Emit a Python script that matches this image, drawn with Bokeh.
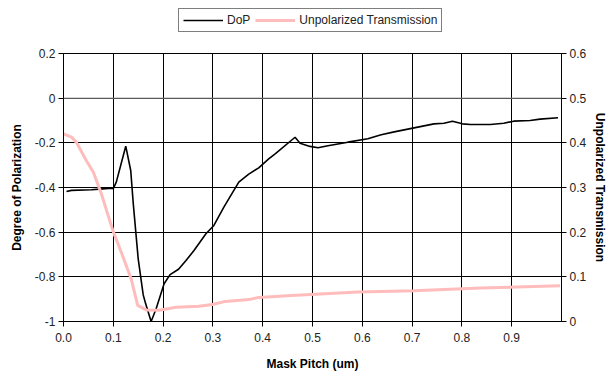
from bokeh.plotting import figure
from bokeh.models import Range1d, LinearAxis, FixedTicker, Legend, LegendItem, Span
from bokeh.layouts import column
from bokeh.embed import file_html
from bokeh.resources import INLINE

# DoP (left axis)
dop_x = [0.006, 0.016, 0.056, 0.079, 0.096, 0.100, 0.106, 0.125, 0.135, 0.140, 0.146, 0.150,
         0.160, 0.165, 0.176, 0.186, 0.202, 0.214, 0.231, 0.246, 0.262, 0.286, 0.302, 0.322,
         0.352, 0.372, 0.392, 0.412, 0.425, 0.465, 0.475, 0.495, 0.511, 0.531, 0.571, 0.611,
         0.638, 0.664, 0.704, 0.744, 0.764, 0.781, 0.801, 0.817, 0.857, 0.884, 0.904, 0.937,
         0.957, 0.993]
dop_y = [-0.418, -0.413, -0.410, -0.406, -0.403, -0.405, -0.376, -0.215, -0.324, -0.47, -0.62, -0.72,
         -0.88, -0.921, -1.0, -0.943, -0.831, -0.79, -0.766, -0.727, -0.682, -0.607, -0.57, -0.488,
         -0.376, -0.340, -0.312, -0.272, -0.249, -0.175, -0.202, -0.216, -0.222, -0.213, -0.197, -0.182,
         -0.164, -0.151, -0.133, -0.115, -0.112, -0.103, -0.115, -0.118, -0.118, -0.112, -0.103, -0.100,
         -0.094, -0.088]

# Unpolarized Transmission (right axis)
tr_x = [0.000, 0.016, 0.026, 0.046, 0.060, 0.076, 0.099, 0.116, 0.136, 0.149, 0.166, 0.192,
        0.226, 0.272, 0.299, 0.325, 0.372, 0.392, 0.458, 0.525, 0.591, 0.704, 0.837, 0.997]
tr_y = [0.420, 0.413, 0.401, 0.360, 0.334, 0.286, 0.204, 0.155, 0.095, 0.036, 0.026, 0.025,
        0.032, 0.034, 0.038, 0.045, 0.049, 0.054, 0.058, 0.062, 0.066, 0.069, 0.075, 0.080]

series_names = ["DoP", "Unpolarized Transmission"]

x_ticks = [0.0, 0.1, 0.2, 0.3, 0.4, 0.5, 0.6, 0.7, 0.8, 0.9]
x_labels = ["0.0", "0.1", "0.2", "0.3", "0.4", "0.5", "0.6", "0.7", "0.8", "0.9"]
yl_ticks = [-1.0, -0.8, -0.6, -0.4, -0.2, 0.0, 0.2]
yl_labels = ["-1", "-0.8", "-0.6", "-0.4", "-0.2", "0", "0.2"]
yr_ticks = [0.0, 0.1, 0.2, 0.3, 0.4, 0.5, 0.6]
yr_labels = ["0", "0.1", "0.2", "0.3", "0.4", "0.5", "0.6"]

FONT = "Liberation Sans"
TXT = "#222222"
DOP_COLOR = "black"
TR_COLOR = "#ffbcbc"

# ---- legend strip on top ----
lg = figure(width=610, height=45, output_backend="svg", toolbar_location=None,
            x_range=Range1d(0, 1), y_range=Range1d(0, 1),
            x_axis_type=None, y_axis_type=None,
            min_border_left=63, min_border_right=45, min_border_top=0, min_border_bottom=0)
lg.outline_line_color = None
lg.grid.visible = False
lg.background_fill_color = "white"
lg.border_fill_color = "white"
# legend swatches only (kept outside the visible range of this strip)
d1 = lg.line([5, 6], [5, 6], line_color=DOP_COLOR, line_width=1.6)
d2 = lg.line([5, 6], [5, 6], line_color=TR_COLOR, line_width=3)
legend = Legend(items=[LegendItem(label=series_names[0], renderers=[d1]),
                       LegendItem(label=series_names[1], renderers=[d2])],
                orientation="horizontal", location=(115, 13),
                border_line_color="black", border_line_width=1,
                background_fill_color="white", background_fill_alpha=1,
                label_text_font=FONT, label_text_font_size="12px", label_text_color=TXT,
                glyph_width=40, glyph_height=14, label_standoff=4, spacing=5,
                padding=4, margin=0, label_height=14)
lg.add_layout(legend, "center")

# ---- main chart ----
p = figure(width=610, height=329, output_backend="svg", toolbar_location=None,
           x_range=Range1d(0, 1.0), y_range=Range1d(-1.0, 0.2),
           min_border_left=63, min_border_right=45, min_border_top=8, min_border_bottom=53)
p.extra_y_ranges = {"tr": Range1d(0, 0.6)}
p.background_fill_color = "white"
p.border_fill_color = "white"
p.outline_line_color = "black"
p.outline_line_width = 1

ax = p.xaxis[0]
ax.ticker = FixedTicker(ticks=x_ticks)
ax.major_label_overrides = {t: l for t, l in zip(x_ticks, x_labels)}
ax.axis_label = "Mask Pitch (um)"

ay = p.yaxis[0]
ay.ticker = FixedTicker(ticks=yl_ticks)
ay.major_label_overrides = {t: l for t, l in zip(yl_ticks, yl_labels)}
ay.axis_label = "Degree of Polarization"

ar = LinearAxis(y_range_name="tr", ticker=FixedTicker(ticks=yr_ticks),
                axis_label="Unpolarized Transmission")
ar.major_label_overrides = {t: l for t, l in zip(yr_ticks, yr_labels)}
p.add_layout(ar, "right")

for a in [ax, ay, ar]:
    a.axis_line_color = "black"
    a.axis_line_width = 1
    a.major_tick_line_color = "black"
    a.major_tick_out = 5
    a.major_tick_in = 0
    a.minor_tick_line_color = None
    a.major_label_text_font = FONT
    a.major_label_text_font_size = "12px"
    a.major_label_text_color = TXT
    a.axis_label_text_font = FONT
    a.axis_label_text_font_size = "12px"
    a.axis_label_text_font_style = "bold"
    a.axis_label_text_color = "black"
ax.major_label_standoff = 6
ax.axis_label_standoff = 12
ay.major_label_standoff = 3
ay.axis_label_standoff = 8
ar.major_label_standoff = 3
ar.axis_label_standoff = 4

p.xgrid.ticker = FixedTicker(ticks=x_ticks)
p.ygrid.ticker = FixedTicker(ticks=yl_ticks)
p.grid.grid_line_color = "black"
p.grid.grid_line_width = 1
p.grid.grid_line_alpha = 1.0
p.add_layout(Span(location=0, dimension="width", line_color="#888888", line_width=1))

p.line(dop_x, dop_y, line_color=DOP_COLOR, line_width=1.6)
p.line(tr_x, tr_y, line_color=TR_COLOR, line_width=3, y_range_name="tr")

layout = column(lg, p, spacing=0)
open("out.html", "w").write(file_html(layout, INLINE))
